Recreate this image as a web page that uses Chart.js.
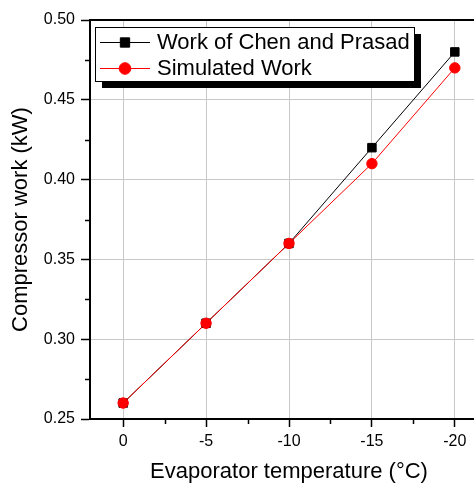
<!DOCTYPE html>
<html>
<head>
<meta charset="utf-8">
<script src="https://cdn.jsdelivr.net/npm/chart.js@4/dist/chart.umd.min.js"></script>
<style>
  html, body { margin: 0; padding: 0; background: #fff; overflow: hidden; }
  #wrap { width: 490px; height: 485px; }
</style>
</head>
<body>
<div id="wrap"><canvas id="c" width="490" height="485"></canvas></div>
<script>
// ---- data ----
const temps = [0, -5, -10, -15, -20];
const chenWork = [0.26, 0.31, 0.36, 0.42, 0.48];
const simWork = [0.26, 0.31, 0.36, 0.41, 0.47];
const seriesNames = ['Work of Chen and Prasad', 'Simulated Work'];
const xTickValues = [0, -5, -10, -15, -20];
const xMinorValues = [-2.5, -7.5, -12.5, -17.5];
const yTickValues = [0.25, 0.30, 0.35, 0.40, 0.45, 0.50];
const yMinorValues = [0.275, 0.325, 0.375, 0.425, 0.475];
const xTitle = 'Evaporator temperature (\u00B0C)';
const yTitle = 'Compressor work (kW)';

const FONT = '"Liberation Sans", Arial, sans-serif';

const minorTicks = {
  id: 'minorTicks',
  afterDraw(chart) {
    const ctx = chart.ctx;
    const xs = chart.scales.x, ys = chart.scales.y;
    const a = chart.chartArea;
    ctx.save();
    ctx.strokeStyle = '#000';
    ctx.lineWidth = 1.5;
    ctx.beginPath();
    xMinorValues.forEach(v => {
      const px = Math.round(xs.getPixelForValue(v)) + 0.5;
      ctx.moveTo(px, a.bottom);
      ctx.lineTo(px, a.bottom + 5);
    });
    yMinorValues.forEach(v => {
      const py = Math.round(ys.getPixelForValue(v)) + 0.5;
      ctx.moveTo(a.left, py);
      ctx.lineTo(a.left - 5, py);
    });
    ctx.stroke();
    ctx.lineWidth = 2;
    ctx.beginPath();
    ctx.moveTo(a.left - 1, a.top);
    ctx.lineTo(a.right + 1, a.top);
    ctx.stroke();
    ctx.restore();
  }
};

const boxLegend = {
  id: 'boxLegend',
  afterDraw(chart) {
    const ctx = chart.ctx;
    const bx = 95, by = 27, bw = 319, bh = 54, sh = 7;
    ctx.save();
    ctx.fillStyle = '#000';
    ctx.fillRect(bx + sh, by + sh, bw, bh);
    ctx.fillStyle = '#fff';
    ctx.fillRect(bx, by, bw, bh);
    ctx.strokeStyle = '#000';
    ctx.lineWidth = 1;
    ctx.strokeRect(bx + 0.5, by + 0.5, bw, bh);
    const rows = [42, 68];
    chart.data.datasets.forEach((ds, i) => {
      const y = rows[i];
      ctx.strokeStyle = ds.borderColor;
      ctx.lineWidth = 1;
      ctx.beginPath();
      ctx.moveTo(100, y + 0.5);
      ctx.lineTo(150, y + 0.5);
      ctx.stroke();
      ctx.fillStyle = ds.pointBackgroundColor;
      ctx.strokeStyle = ds.pointBorderColor;
      ctx.lineWidth = 1;
      Chart.helpers.drawPoint(ctx, {
        pointStyle: ds.pointStyle,
        radius: ds.pointRadius + 0.6,
        borderWidth: 1,
        rotation: 0
      }, 125, y + 0.5);
      ctx.fillStyle = '#000';
      ctx.font = '22px ' + FONT;
      ctx.textBaseline = 'middle';
      ctx.textAlign = 'left';
      ctx.fillText(ds.label, 157, y + 1);
    });
    ctx.restore();
  }
};

new Chart(document.getElementById('c'), {
  type: 'line',
  data: {
    datasets: [
      {
        label: seriesNames[0],
        data: temps.map((t, i) => ({ x: t, y: chenWork[i] })),
        borderColor: '#000000',
        backgroundColor: '#000000',
        pointBackgroundColor: '#000000',
        pointBorderColor: '#000000',
        pointStyle: 'rect',
        pointRadius: 6,
        pointBorderWidth: 1,
        borderWidth: 1,
        tension: 0,
        clip: false,
        order: 2
      },
      {
        label: seriesNames[1],
        data: temps.map((t, i) => ({ x: t, y: simWork[i] })),
        borderColor: '#ff0000',
        backgroundColor: '#ff0000',
        pointBackgroundColor: '#ff0000',
        pointBorderColor: '#ff0000',
        pointStyle: 'circle',
        pointRadius: 5.2,
        pointBorderWidth: 1,
        borderWidth: 1,
        tension: 0,
        clip: false,
        order: 1
      }
    ]
  },
  options: {
    responsive: false,
    animation: false,
    devicePixelRatio: 1,
    layout: { autoPadding: false, padding: { top: 20, right: 2, left: 0, bottom: 0 } },
    plugins: { legend: { display: false }, tooltip: { enabled: false } },
    scales: {
      x: {
        type: 'linear',
        min: -22,
        max: 2,
        reverse: true,
        afterBuildTicks: s => { s.ticks = xTickValues.map(v => ({ value: v })); },
        afterFit: s => { s.height = 66; s.paddingLeft = 0; s.paddingRight = 0; },
        ticks: {
          color: '#000',
          font: { size: 16, family: FONT },
          padding: 5,
          maxRotation: 0,
          callback: v => String(v)
        },
        grid: {
          color: '#c8c8c8',
          lineWidth: 1,
          tickColor: '#000',
          tickLength: 8,
          tickWidth: 1.5,
          drawTicks: true
        },
        border: { color: '#000', width: 2 },
        title: {
          display: true,
          text: xTitle,
          color: '#000',
          font: { size: 22, family: FONT },
          padding: { top: 0, bottom: 0 }
        }
      },
      y: {
        type: 'linear',
        min: 0.25,
        max: 0.50,
        afterBuildTicks: s => { s.ticks = yTickValues.map(v => ({ value: v })); },
        afterFit: s => { s.width = 90; },
        ticks: {
          color: '#000',
          font: { size: 16, family: FONT },
          padding: 6,
          callback: v => Number(v).toFixed(2)
        },
        grid: {
          color: '#c8c8c8',
          lineWidth: 1,
          tickColor: '#000',
          tickLength: 9,
          tickWidth: 1.5,
          drawTicks: true
        },
        border: { color: '#000', width: 2 },
        title: {
          display: true,
          text: yTitle,
          color: '#000',
          font: { size: 22, family: FONT },
          padding: { top: 8, bottom: 0 }
        }
      }
    }
  },
  plugins: [minorTicks, boxLegend]
});
</script>
</body>
</html>
